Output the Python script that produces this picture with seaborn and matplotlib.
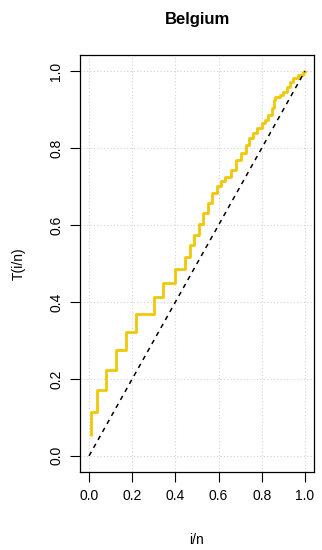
import matplotlib
matplotlib.use("Agg")
import matplotlib.pyplot as plt
import numpy as np
import pandas as pd
import seaborn as sns

# TTT plot values (steps-post)
i_over_n = [0.008, 0.009, 0.036, 0.079, 0.125, 0.170, 0.218, 0.300, 0.341,
            0.398, 0.444, 0.468, 0.486, 0.510, 0.529, 0.552, 0.568, 0.594,
            0.612, 0.630, 0.656, 0.681, 0.704, 0.725, 0.742, 0.760, 0.779,
            0.799, 0.815, 0.830, 0.846, 0.855, 0.861, 0.884, 0.899, 0.915,
            0.930, 0.946, 0.969, 0.992, 1.000]
ttt = [0.055, 0.114, 0.170, 0.223, 0.274, 0.323, 0.369, 0.413, 0.449,
       0.485, 0.518, 0.548, 0.574, 0.602, 0.630, 0.656, 0.684, 0.701,
       0.715, 0.726, 0.743, 0.769, 0.786, 0.808, 0.826, 0.839, 0.852,
       0.864, 0.873, 0.886, 0.903, 0.925, 0.933, 0.939, 0.946, 0.959,
       0.972, 0.981, 0.990, 0.998, 1.000]
diag = [0.0, 1.0]
ticks = [0.0, 0.2, 0.4, 0.6, 0.8, 1.0]

sns.set_style("white")
plt.rcParams["font.family"] = ["Liberation Sans", "DejaVu Sans"]
plt.rcParams["text.color"] = "black"
plt.rcParams["axes.labelcolor"] = "black"
plt.rcParams["xtick.color"] = "black"
plt.rcParams["ytick.color"] = "black"

df = pd.DataFrame({"x": i_over_n, "T": ttt})

fig = plt.figure(figsize=(3.22, 5.5), dpi=100)
ax = fig.add_axes([80 / 322, 1 - 472 / 550, 234 / 322, 417 / 550])

ax.grid(True, color="#d3d3d3", linestyle=(0, (1, 2)), linewidth=0.8)
ax.set_axisbelow(True)

sns.lineplot(data=df, x="x", y="T", ax=ax, color="#F0C808", linewidth=2.0,
             drawstyle="steps-post", estimator=None, sort=False)
sns.lineplot(x=diag, y=diag, ax=ax, color="black", linewidth=1.1,
             linestyle=(0, (3, 3)), estimator=None)

ax.set_xlim(-0.042, 1.042)
ax.set_ylim(-0.042, 1.042)
ax.set_xticks(ticks)
ax.set_yticks(ticks)
ax.set_xticklabels([f"{t:.1f}" for t in ticks], fontsize=10)
ax.set_yticklabels([f"{t:.1f}" for t in ticks], fontsize=10, rotation=90,
                   va="center")
ax.tick_params(axis="both", direction="out", length=7, width=0.8,
               color="black", pad=5, bottom=True, left=True)
for s in ax.spines.values():
    s.set_color("black")
    s.set_linewidth(0.9)

ax.set_xlabel("i/n", fontsize=10, labelpad=22)
ax.set_ylabel("T(i/n)", fontsize=10, labelpad=17)
ax.set_title("Belgium", fontsize=12, fontweight="bold", pad=22)

fig.savefig("out.png", dpi=100)
